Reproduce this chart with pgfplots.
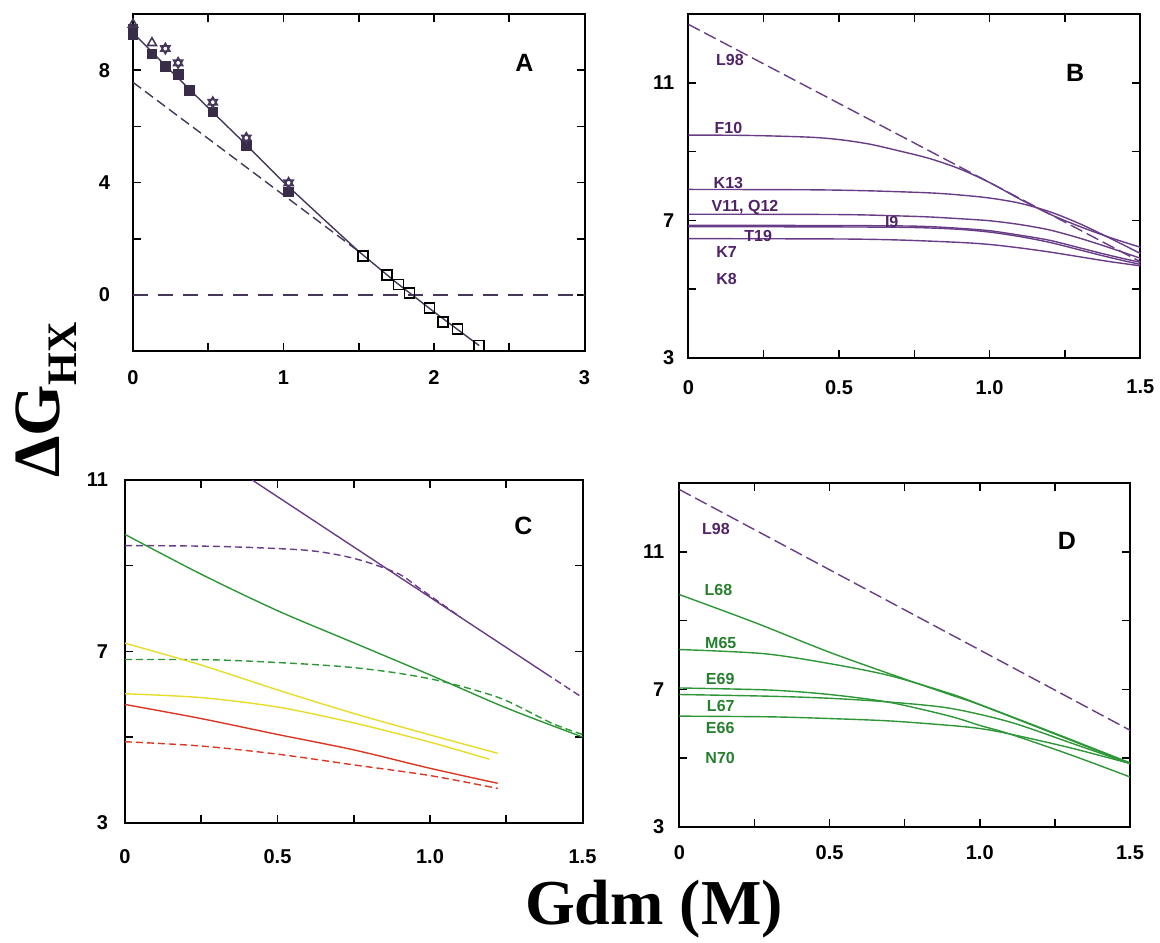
\documentclass[border=0pt]{standalone}
\usepackage{fontspec}
\setmainfont{Liberation Serif}
\newfontfamily\hv{Liberation Sans}
\usepackage{pgfplots}
\pgfplotsset{compat=1.18}

\definecolor{purp}{RGB}{105,60,135}
\definecolor{purptxt}{RGB}{80,35,105}
\definecolor{grn}{RGB}{45,150,55}
\definecolor{ylw}{RGB}{232,220,40}
\definecolor{rd}{RGB}{220,55,35}
\definecolor{dk}{RGB}{70,55,90}

\pgfplotsset{
  panel/.style={
    scale only axis, anchor=north west,
    axis line style={line width=1pt},
    tick style={line width=0.8pt, black},
    tick align=inside,
    major tick length=4pt, minor tick length=4pt,
    ticklabel style={font=\hv\bfseries\fontsize{10}{12}\selectfont},
    /pgf/number format/assume math mode=true,
  },
}
\tikzset{
  lbl/.style={font=\hv\bfseries\fontsize{8}{9}\selectfont, anchor=center},
  big/.style={font=\hv\bfseries\fontsize{12.5}{14}\selectfont},
  cur/.style={line width=0.7pt, smooth},
}

\begin{document}
\begin{tikzpicture}
\useasboundingbox (0,0) rectangle (580pt,-471pt);

% ---------------- A
\begin{axis}[panel, at={(66.5pt,-7pt)}, width=225.75pt, height=168.6pt,
  xmin=0, xmax=3, ymin=-2, ymax=10,
  xtick={0,1,2,3}, xticklabels={0,1,2,3}, minor xtick={0.5,1.5,2.5},
  ytick={0,4,8}, yticklabels={0,4,8}, minor ytick={2,6},
  yticklabel style={xshift=-8pt}, xticklabel style={yshift=-6pt}]
\addplot[dk, line width=0.7pt, dash pattern=on 7.5pt off 5pt] coordinates {(0,0) (3,0)};
\addplot[dk, line width=0.7pt, dash pattern=on 5pt off 2.5pt] coordinates {(0,7.57) (1.5,1.55)};
\addplot[dk, line width=0.7pt] coordinates {
  (0,9.33) (0.25,7.98) (0.5,6.66) (0.75,5.36) (1.0,4.02) (1.25,2.78)
  (1.5,1.55) (1.75,0.44) (2.0,-0.6) (2.3,-1.8)};
\addplot[only marks, mark=square*, mark size=2.4pt, dk!80!black] coordinates {
  (0,9.27) (0,9.45) (0.126,8.58) (0.215,8.14) (0.30,7.85) (0.376,7.29)
  (0.53,6.52) (0.753,5.33) (1.034,3.67)};
\addplot[only marks, mark=triangle, mark size=2.6pt, dk, mark options={line width=0.8pt}] coordinates {
  (0,9.63) (0.126,8.97) (0.215,8.77) (0.30,8.26) (0.53,6.86) (0.753,5.59) (1.034,3.99)};
\addplot[only marks, mark=triangle, mark size=2.6pt, dk, mark options={rotate=180, line width=0.8pt}] coordinates {
  (0.215,8.77) (0.30,8.26) (0.53,6.86) (0.753,5.59) (1.034,3.99)};
\addplot[only marks, mark=square, mark size=2.5pt, black, mark options={fill=white, line width=0.8pt}] coordinates {
  (1.528,1.38) (1.688,0.71) (1.763,0.37) (1.836,0.07) (1.971,-0.46)
  (2.06,-0.96) (2.155,-1.21) (2.30,-1.80)};
\node[big] at (axis cs:2.60,8.26) {A};
\end{axis}

% ---------------- B
\begin{axis}[panel, at={(344.15pt,-7pt)}, width=226pt, height=172pt,
  xmin=0, xmax=1.5, ymin=3, ymax=13,
  xtick={0,0.5,1.0,1.5}, xticklabels={0,0.5,1.0,1.5}, minor xtick={0.25,0.75,1.25},
  ytick={3,7,11}, yticklabels={3,7,11}, minor ytick={5,9,13},
  yticklabel style={xshift=-3.5pt}, xticklabel style={yshift=-7.5pt}]
\addplot[purp, line width=0.7pt, dash pattern=on 6.5pt off 2.5pt] coordinates {(0,12.7) (1.5,5.8)};
\addplot[purp, cur] coordinates {(0,9.48) (0.2,9.47) (0.4,9.42) (0.5,9.35) (0.6,9.22) (0.7,9.02)
  (0.8,8.8) (0.9,8.5) (1.0,8.1) (1.1,7.62) (1.2,7.18) (1.3,6.82) (1.4,6.5) (1.5,6.22)};
\addplot[purp, cur] coordinates {(0,7.9) (0.4,7.89) (0.6,7.86) (0.8,7.8) (0.9,7.74) (1.0,7.65)
  (1.1,7.5) (1.2,7.25) (1.3,6.9) (1.4,6.48) (1.5,6.04)};
\addplot[purp, cur] coordinates {(0,7.18) (0.5,7.17) (0.7,7.13) (0.8,7.1) (0.9,7.05) (1.0,6.99)
  (1.1,6.88) (1.2,6.72) (1.3,6.48) (1.4,6.2) (1.5,5.9)};
\addplot[purp, cur] coordinates {(0,6.86) (0.5,6.85) (0.7,6.84) (0.8,6.82) (0.9,6.77) (1.0,6.7)
  (1.1,6.57) (1.2,6.42) (1.3,6.2) (1.4,5.98) (1.5,5.78)};
\addplot[purp, cur] coordinates {(0,6.82) (0.5,6.81) (0.7,6.8) (0.8,6.78) (0.9,6.74) (1.0,6.66)
  (1.1,6.53) (1.2,6.36) (1.3,6.14) (1.4,5.92) (1.5,5.72)};
\addplot[purp, cur] coordinates {(0,6.47) (0.5,6.46) (0.7,6.43) (0.9,6.36) (1.0,6.3)
  (1.1,6.2) (1.2,6.08) (1.3,5.94) (1.4,5.8) (1.5,5.68)};
\node[lbl, purptxt] at (axis cs:0.138,11.66) {L98};
\node[lbl, purptxt] at (axis cs:0.133,9.68) {F10};
\node[lbl, purptxt] at (axis cs:0.133,8.10) {K13};
\node[lbl, purptxt] at (axis cs:0.188,7.38) {V11, Q12};
\node[lbl, purptxt] at (axis cs:0.675,6.96) {I9};
\node[lbl, purptxt] at (axis cs:0.232,6.56) {T19};
\node[lbl, purptxt] at (axis cs:0.127,6.09) {K7};
\node[lbl, purptxt] at (axis cs:0.127,5.29) {K8};
\node[big] at (axis cs:1.284,11.28) {B};
\end{axis}

% ---------------- C
\begin{axis}[panel, at={(62.5pt,-240pt)}, width=228.75pt, height=171.35pt,
  xmin=0, xmax=1.5, ymin=3, ymax=11,
  xtick={0,0.5,1.0,1.5}, xticklabels={0,0.5,1.0,1.5}, minor xtick={0.25,0.75,1.25},
  ytick={3,7,11}, yticklabels={3,7,11}, minor ytick={5,9},
  yticklabel style={xshift=-5pt}, xticklabel style={yshift=-10pt}]
\addplot[purp, line width=0.7pt] coordinates {(0.417,11) (1.38,6.48)};
\addplot[purp, line width=0.7pt, dash pattern=on 3.5pt off 2pt] coordinates {(1.38,6.48) (1.5,5.92)};
\addplot[purp, cur, dash pattern=on 3.5pt off 2pt] coordinates {(0,9.47) (0.3,9.45) (0.576,9.37)
  (0.7,9.25) (0.795,9.08) (0.9,8.8) (0.96,8.5) (1.05,8.05) (1.1,7.8)};
\addplot[grn, cur] coordinates {(0,9.73) (0.25,8.8) (0.5,7.95) (0.75,7.2) (1.0,6.45) (1.25,5.68) (1.5,5.0)};
\addplot[grn, cur, dash pattern=on 3.5pt off 2pt] coordinates {(0,6.81) (0.3,6.8) (0.576,6.71)
  (0.75,6.62) (0.905,6.48) (1.05,6.28) (1.233,5.9) (1.4,5.32) (1.5,5.06)};
\addplot[ylw, cur] coordinates {(0,7.19) (0.25,6.68) (0.5,6.1) (0.75,5.55) (1.0,5.05) (1.222,4.62)};
\addplot[ylw, cur] coordinates {(0,6.01) (0.25,5.92) (0.5,5.7) (0.75,5.33) (1.0,4.88) (1.195,4.48)};
\addplot[rd, cur] coordinates {(0,5.76) (0.25,5.43) (0.5,5.06) (0.75,4.7) (1.0,4.27) (1.222,3.92)};
\addplot[rd, cur, dash pattern=on 3.5pt off 2pt] coordinates {(0,4.89) (0.25,4.79) (0.5,4.6) (0.75,4.35) (1.0,4.1) (1.222,3.8)};
\node[big] at (axis cs:1.306,9.94) {C};
\end{axis}

% ---------------- D
\begin{axis}[panel, at={(339.65pt,-241.65pt)}, width=225.35pt, height=171.7pt,
  xmin=0, xmax=1.5, ymin=3, ymax=13,
  xtick={0,0.5,1.0,1.5}, xticklabels={0,0.5,1.0,1.5}, minor xtick={0.25,0.75,1.25},
  ytick={3,7,11}, yticklabels={3,7,11}, minor ytick={5,9,13},
  yticklabel style={xshift=-4pt}, xticklabel style={yshift=-6pt}]
\addplot[purp, line width=0.7pt, dash pattern=on 6.5pt off 2.5pt] coordinates {(0,12.82) (1.5,5.81)};
\addplot[grn, cur] coordinates {(0,9.76) (0.25,8.95) (0.5,8.08) (0.75,7.3) (0.9,6.85) (1.0,6.55) (1.25,5.7) (1.5,4.84)};
\addplot[grn, cur] coordinates {(0,8.16) (0.28,8.04) (0.5,7.75) (0.7,7.4) (0.9,6.88) (1.0,6.56) (1.25,5.72) (1.5,4.86)};
\addplot[grn, cur] coordinates {(0,7.04) (0.3,6.98) (0.5,6.85) (0.7,6.62) (0.9,6.22) (1.0,5.95) (1.1,5.7) (1.3,5.1) (1.5,4.45)};
\addplot[grn, cur] coordinates {(0,6.85) (0.3,6.8) (0.5,6.74) (0.7,6.63) (0.9,6.45) (1.1,6.05) (1.3,5.45) (1.5,4.84)};
\addplot[grn, cur] coordinates {(0,6.22) (0.3,6.2) (0.5,6.15) (0.7,6.08) (0.9,5.95) (1.0,5.86) (1.1,5.7) (1.3,5.3) (1.5,4.84)};
\node[lbl, purptxt] at (axis cs:0.122,11.67) {L98};
\node[lbl, grn!85!black] at (axis cs:0.13,9.9) {L68};
\node[lbl, grn!85!black] at (axis cs:0.138,8.35) {M65};
\node[lbl, grn!85!black] at (axis cs:0.136,7.29) {E69};
\node[lbl, grn!85!black] at (axis cs:0.138,6.52) {L67};
\node[lbl, grn!85!black] at (axis cs:0.136,5.88) {E66};
\node[lbl, grn!85!black] at (axis cs:0.136,4.99) {N70};
\node[big] at (axis cs:1.29,11.33) {D};
\end{axis}

% shared labels
\node[rotate=90, anchor=center] at (23pt,-200pt)
  {\fontsize{33}{38}\selectfont\bfseries ΔG\raisebox{-0.25em}{\fontsize{21}{24}\selectfont HX}};
\node[anchor=center] at (327pt,-454.5pt) {\fontsize{32}{38}\selectfont\bfseries Gdm (M)};
\end{tikzpicture}
\end{document}
